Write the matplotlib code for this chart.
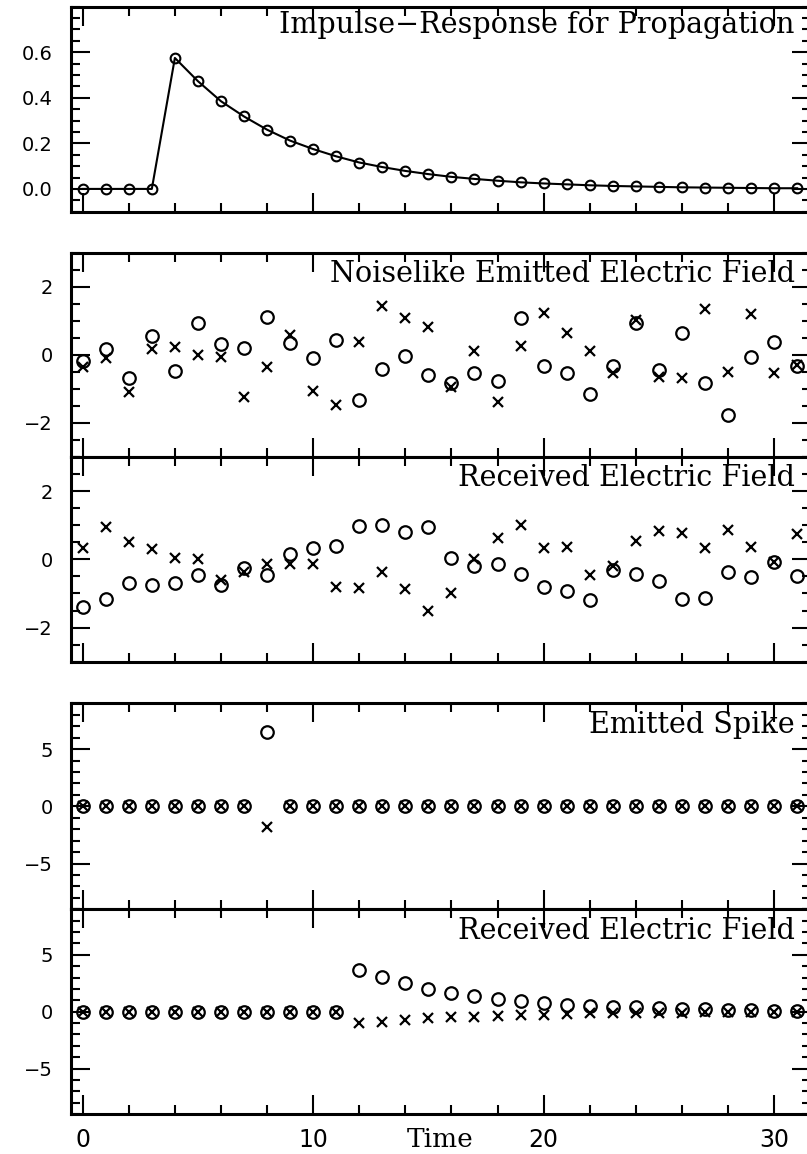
import numpy as np
import matplotlib
matplotlib.use("Agg")
import matplotlib.pyplot as plt
from matplotlib.ticker import MultipleLocator, FixedLocator

# ---------------- data ----------------
time = list(range(32))

impulse = [0.0, 0.0, 0.0, 0.0, 0.575, 0.473, 0.385, 0.318, 0.260, 0.212,
           0.175, 0.143, 0.116, 0.096, 0.079, 0.065, 0.053, 0.044, 0.036, 0.029,
           0.024, 0.020, 0.016, 0.013, 0.011, 0.009, 0.007, 0.006, 0.005, 0.004,
           0.003, 0.003]

noise_re = [-0.18, 0.18, -0.67, 0.56, -0.47, 0.94, 0.32, 0.20, 1.10, 0.34,
            -0.08, 0.44, -1.33, -0.41, -0.04, -0.59, -0.84, -0.54, -0.77, 1.08,
            -0.34, -0.52, -1.15, -0.34, 0.94, -0.44, 0.64, -0.84, -1.77, -0.05,
            0.39, -0.32]
noise_im = [-0.37, -0.10, -1.08, 0.17, 0.22, 0.00, -0.07, -1.23, -0.36, 0.57,
            -1.06, -1.48, 0.39, 1.43, 1.09, 0.83, -0.94, 0.10, -1.38, 0.25,
            1.23, 0.64, 0.12, -0.54, 1.03, -0.64, -0.67, 1.35, -0.51, 1.20,
            -0.52, -0.30]

recv_re = [-1.41, -1.17, -0.70, -0.75, -0.68, -0.46, -0.75, -0.26, -0.47, 0.17,
           0.34, 0.39, 0.99, 1.02, 0.81, 0.94, 0.05, -0.19, -0.15, -0.44,
           -0.80, -0.94, -1.18, -0.32, -0.44, -0.63, -1.15, -1.12, -0.36, -0.53,
           -0.07, -0.49]
recv_im = [0.34, 0.95, 0.50, 0.29, 0.05, 0.02, -0.61, -0.37, -0.15, -0.15,
           -0.15, -0.80, -0.83, -0.36, -0.87, -1.52, -1.00, 0.02, 0.63, 1.02,
           0.34, 0.36, -0.47, -0.19, 0.53, 0.83, 0.76, 0.34, 0.87, 0.36,
           -0.07, 0.73]

spike_re = [0.0] * 8 + [6.46] + [0.0] * 23
spike_im = [0.0] * 8 + [-1.81] + [0.0] * 23

spike_recv_re = [0.0] * 12 + [3.70, 3.05, 2.51, 1.95, 1.66, 1.42, 1.12, 0.92,
                              0.77, 0.62, 0.53, 0.44, 0.38, 0.30, 0.25, 0.20,
                              0.15, 0.12, 0.10, 0.08]
spike_recv_im = [0.0] * 12 + [-1.04, -0.89, -0.71, -0.56, -0.50, -0.44, -0.38, -0.27,
                              -0.27, -0.20, -0.15, -0.15, -0.12, -0.10, -0.08, -0.06,
                              -0.05, -0.04, -0.03, -0.03]

titles = ["Impulse\u2212Response for Propagation",
          "Noiselike Emitted Electric Field",
          "Received Electric Field",
          "Emitted Spike",
          "Received Electric Field"]

xticks_major = [0, 10, 20, 30]
xlabel = "Time"

# ---------------- layout ----------------
W, H = 807, 1154
fig = plt.figure(figsize=(W / 100, H / 100), dpi=100)
fig.patch.set_facecolor("white")

left_px, right_px = 70.7, 811.0
panels_px = [(6.7, 211.7), (252.7, 457.0), (457.0, 661.7), (703.3, 909.3), (909.3, 1114.0)]

axes = []
for top, bot in panels_px:
    ax = fig.add_axes([left_px / W, 1 - bot / H, (right_px - left_px) / W, (bot - top) / H])
    axes.append(ax)

XLIM = (-0.52, 31.6)
for i, ax in enumerate(axes):
    ax.set_xlim(*XLIM)
    ax.xaxis.set_major_locator(FixedLocator(xticks_major))
    ax.xaxis.set_minor_locator(MultipleLocator(2))
    for sp in ax.spines.values():
        sp.set_linewidth(2.2)
    ax.tick_params(which="both", direction="in", top=True, right=True, width=1.5,
                   labelsize=14, pad=13)
    ax.tick_params(which="major", length=13.5)
    ax.tick_params(which="minor", length=6.7)
    if i < 4:
        ax.tick_params(labelbottom=False)

# Panel 1
ax = axes[0]
ax.plot(time, impulse, color="black", lw=1.5, marker="o", ms=7, mfc="none", mew=1.5)
ax.set_ylim(-0.1, 0.8)
ax.yaxis.set_major_locator(FixedLocator([0.0, 0.2, 0.4, 0.6]))
ax.yaxis.set_minor_locator(MultipleLocator(0.05))
ax.set_yticklabels(["0.0", "0.2", "0.4", "0.6"])

def scatter_pair(ax, re, im):
    ax.plot(time, re, ls="none", marker="o", ms=9, mfc="none", mec="black", mew=1.6)
    ax.plot(time, im, ls="none", marker="x", ms=7, mec="black", mew=1.6)

scatter_pair(axes[1], noise_re, noise_im)
scatter_pair(axes[2], recv_re, recv_im)
scatter_pair(axes[3], spike_re, spike_im)
scatter_pair(axes[4], spike_recv_re, spike_recv_im)

for ax in axes[1:3]:
    ax.set_ylim(-3, 3)
    ax.yaxis.set_major_locator(FixedLocator([-2, 0, 2]))
    ax.yaxis.set_minor_locator(MultipleLocator(0.5))
for ax in axes[3:5]:
    ax.set_ylim(-9, 9)
    ax.yaxis.set_major_locator(FixedLocator([-5, 0, 5]))
    ax.yaxis.set_minor_locator(MultipleLocator(1))

axes[4].tick_params(axis="x", labelsize=17, pad=10)

# titles
for i, (ax, t) in enumerate(zip(axes, titles)):
    ybase = 0.870 if i == 0 else 0.857
    ax.text(0.978, ybase, t, transform=ax.transAxes, ha="right", va="baseline",
            fontfamily="DejaVu Serif", fontsize=20.6)

axes[4].text(15.5, -0.163, xlabel, transform=axes[4].get_xaxis_transform(),
             ha="center", va="baseline", fontfamily="DejaVu Serif", fontsize=19)

fig.savefig("out.png", dpi=100, facecolor="white")
